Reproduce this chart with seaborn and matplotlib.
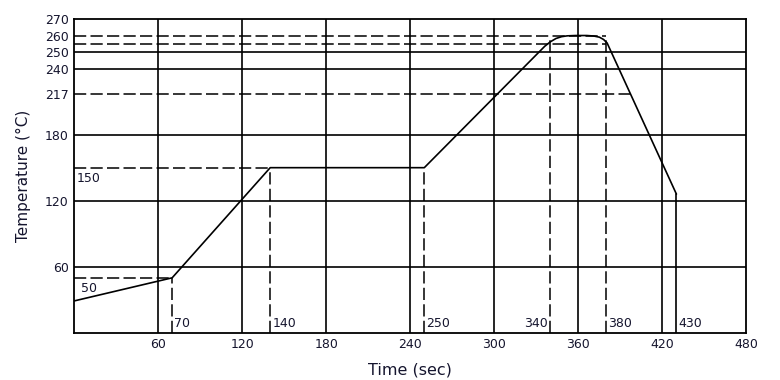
import numpy as np
import pandas as pd
import matplotlib
matplotlib.use("Agg")
import matplotlib.pyplot as plt
import seaborn as sns

# reflow profile
time_s = [0, 70, 140, 250, 336, 340, 344, 348, 352, 358, 366, 371, 375, 378, 380.5, 430]
temp_c = [29, 50, 150, 150, 253.5, 256.2, 258.2, 259.3, 259.8, 260, 260, 259.7, 259, 257.6, 255.5, 126]

y_ticks = [60, 120, 180, 217, 240, 250, 260, 270]
x_ticks = [60, 120, 180, 240, 300, 360, 420, 480]
grid_y = [60, 120, 180, 240, 250]
grid_x = [60, 120, 180, 240, 300, 360, 420]

# dashed guides: (level, start, end)
dash_h = [(50, 0, 70), (150, 0, 140), (217, 0, 397), (255, 0, 380), (260, 0, 380)]
dash_v = [(70, 0, 50), (140, 0, 150), (250, 0, 150), (340, 0, 260), (380, 0, 260)]

temp_labels = [("50", 5, 50), ("150", 2, 150)]
time_labels = ["70", "140", "250", "340", "380", "430"]
time_marks = [70, 140, 250, 340, 380, 430]

df = pd.DataFrame({"Time (sec)": time_s, "Temperature (°C)": temp_c})

sns.set_style("white")
plt.rcParams["font.family"] = ["DejaVu Sans"]
txt = "#15152e"


# the chart stretches the top band (above 240) by 1.5x
def fwd(y):
    y = np.asarray(y, dtype=float)
    return np.where(y <= 240, y, 240 + (y - 240) * 1.5)


def inv(y):
    y = np.asarray(y, dtype=float)
    return np.where(y <= 240, y, 240 + (y - 240) / 1.5)


fig = plt.figure(figsize=(7.8, 3.8), dpi=100)
ax = fig.add_axes([0.095, 0.124, 0.862, 0.826])
ax.set_yscale("function", functions=(fwd, inv))

for g in grid_y:
    ax.axhline(g, color="black", lw=1.2, zorder=1)
for g in grid_x:
    ax.axvline(g, color="black", lw=1.2, zorder=1)

dash = (0, (8, 2.8))
for lvl, a, b in dash_h:
    ax.plot([a, b], [lvl, lvl], color="black", lw=1.1, linestyle=dash, zorder=2)
for lvl, a, b in dash_v:
    ax.plot([lvl, lvl], [a, b], color="black", lw=1.1, linestyle=dash, zorder=2)

sns.lineplot(data=df, x="Time (sec)", y="Temperature (°C)", color="black",
             lw=1.2, ax=ax, zorder=3, sort=False, estimator=None)
ax.plot([time_s[-1], time_s[-1]], [0, temp_c[-1]], color="black", lw=1.2, zorder=3)

for s, x, y in temp_labels:
    ax.text(x, y - 4, s, fontsize=9, color=txt, va="top", ha="left")
for s, x in zip(time_labels, time_marks):
    if s == "340":
        ax.text(x - 2, 3, s, fontsize=9, color=txt, va="bottom", ha="right")
    else:
        ax.text(x + 1.5, 3, s, fontsize=9, color=txt, va="bottom", ha="left")

ax.set_xlim(0, 480)
ax.set_ylim(0, 270)
ax.set_xticks(x_ticks)
ax.set_yticks(y_ticks)
ax.set_yticklabels([str(t) for t in y_ticks])
ax.yaxis.set_minor_locator(matplotlib.ticker.NullLocator())
ax.tick_params(length=0, labelsize=9, labelcolor=txt, pad=4)
for sp in ax.spines.values():
    sp.set_color("black")
    sp.set_linewidth(1.3)
ax.set_xlabel("Time (sec)", fontsize=11.5, color=txt, labelpad=8)
ax.set_ylabel("Temperature (°C)", fontsize=11, color=txt, labelpad=10)

fig.savefig("out.png", dpi=100)
